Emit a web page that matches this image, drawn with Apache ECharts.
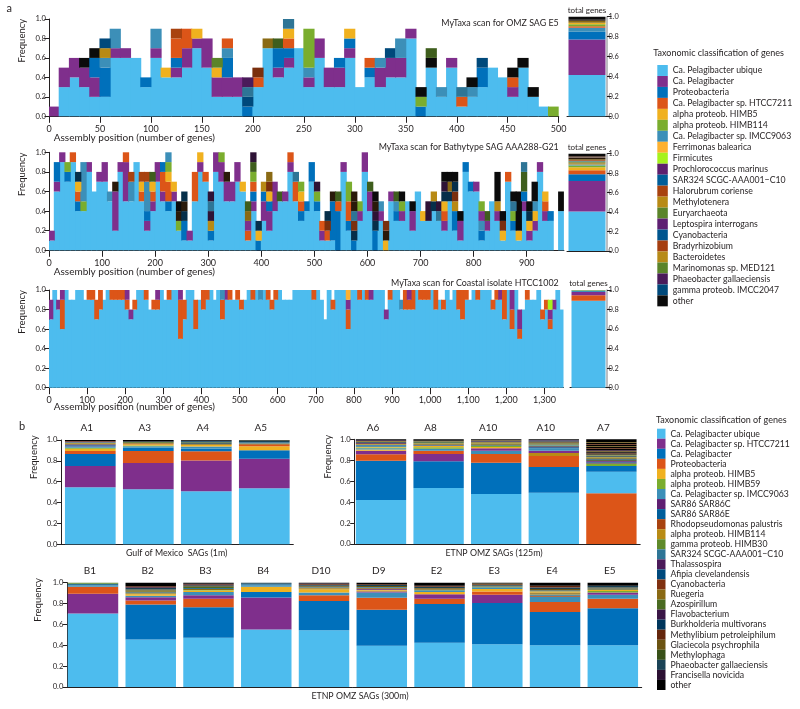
<!DOCTYPE html>
<html><head><meta charset="utf-8">
<style>html,body{margin:0;padding:0;background:#fff}#c{width:800px;height:709px}</style>
<script src="https://cdn.jsdelivr.net/npm/echarts@6/dist/echarts.min.js"></script>
</head><body><div id="c"></div>
<script>
const FONT = 'Lato';
const INK = '#231f20';

// ---- taxa of panel a (legend order) ----
const taxaA = ['Ca. Pelagibacter ubique','Ca. Pelagibacter','Proteobacteria','Ca. Pelagibacter sp. HTCC7211','alpha proteob. HIMB5','alpha proteob. HIMB114','Ca. Pelagibacter sp. IMCC9063','Ferrimonas balearica','Firmicutes','Prochlorococcus marinus','SAR324 SCGC-AAA001\u2212C10','Halorubrum coriense','Methylotenera','Euryarchaeota','Leptospira interrogans','Cyanobacteria','Bradyrhizobium','Bacteroidetes','Marinomonas sp. MED121','Phaeobacter gallaeciensis','gamma proteob. IMCC2047','other'];
const codesA = ['U','P','B','O','Y','G','C','F','R','D','S','H','M','E','L','V','W','T','I','Q','N','K'];
const coloursA = ['#4dbcee','#7f2f8c','#0070bb','#dc5518','#f0b11f','#7aad2e','#3c8fb8','#fdb131','#a6f21c','#5e1f6e','#005d99','#a8420f','#b88a15','#5b842a','#5e1f72','#00558e','#a53e10','#b78a18','#5a842a','#4a1b5a','#00497b','#0b0b0b'];
// darker minor taxa seen in the scans but not named in the legend
const extraCodesA = ['t','z','g','o','d','n','q'];
const extraColoursA = ['#2e7596','#7a2f0d','#3f5e1d','#8a6a14','#2a1a0a','#062f4a','#2e1336'];

// ---- taxa of panel b (legend order) ----
const taxaB = ['Ca. Pelagibacter ubique','Ca. Pelagibacter sp. HTCC7211','Ca. Pelagibacter','Proteobacteria','alpha proteob. HIMB5','alpha proteob. HIMB59','Ca. Pelagibacter sp. IMCC9063','SAR86 SAR86C','SAR86 SAR86E','Rhodopseudomonas palustris','alpha proteob. HIMB114','gamma proteob. HIMB30','SAR324 SCGC-AAA001\u2212C10','Thalassospira','Afipia clevelandensis','Cyanobacteria','Ruegeria','Azospirillum','Flavobacterium','Burkholderia multivorans','Methylibium petroleiphilum','Glaciecola psychrophila','Methylophaga','Phaeobacter gallaeciensis','Francisella novicida','other'];
const codesB = ['U','P','B','O','Y','G','C','p','s','r','m','g','t','h','f','c','u','z','l','b','e','a','y','d','n','k'];
const coloursB = ['#4dbcee','#7f2f8c','#0070bb','#dc5518','#f0b11f','#7aad2e','#3c8fb8','#5f1f72','#005e9a','#a8420f','#b88b15','#5f8a2a','#2e7596','#4b1b5a','#00497c','#7f3010','#8a6a14','#4a6b22','#3a1646','#00365c','#64260c','#6b5311','#385119','#1b4356','#2c1133','#000000'];

// ---- sliding-window scans: code + count of 0.1 frequency steps, bottom to top ----
const omzE5 = ['P1','U3P2','U4P2','U3P2K1','U2P2B2K1','U2B3C1M1N1','U6P1C2','U6P1','U6','U3B1','U6P1C2','U4Y1','U4P1B1O2H1','U5P2O2','U7P1Y1','U5P3','U2P2Y1E1','U2P2B2C1O1','U2P2','B1N1t1Q1','U3O1z1','U7o1','U4P1B2g1','U5P1B1O1Y1t1','U7','U3P1C1G4','U6P2','U3P2','U3P2B1','U6P1B1Y1','U3','U4B1O1','U3P2C1','U4P2N1','U4P2C2','U8P1','B1G1K1','U5K1g1','U2C1','U5P1','U1O1t1','U2C1K1','U3B2N1','U5','U4','U2P1O1K1','U5K1','U2K1','U1','G1'];
const bathyG21 = ['U1P1','U6P1B2','U9P1','U7B1G1','U9O1','U4B1O1Y1n1','U4G1C4','U8P1','U6','U7P1','U7P2','U5C1','U2P4d1','U8P1','U5P4O1','U5C2H1','U9','U5O1Y1H1','U2P1B1C3H1','U4P1O1Y1g1','U7P2','U5P1O2B1','U4B1O2Y1G1C1','U5P1Y1','U2G1d1K1','U1B2n1d1n1','U1P1','U5O3','U8P1Y1','U7O1','U1B1M1q1t1q1','U8P2','U7P2G1','U5P2d1','U5P2','U7P2','U6Y1','U1O1P1o1g1','U4P1B1O1G1g1q1','B1Y1n1','U3P2B1M1','U2P2B1Y1z1o1','U4P3','U5g1','U5P1','U8P1O1','U5O2t1','U3B1O1Y1G1','U4B1','U7B2','U4B1G1q1','U1P1O1','U1O1z1n1','U1B4d1','B4O1g1','U8P1','U2B1O2G2','B1n1z1t1d1d1','U3P1G1','U8P2','U4P2g1','B2n1q1d1K1','U3P1C1','Y1d1z1','U5P1','U3B1C1g1','U3P1G1K1','U5','U2P2K1','U6','U3Y1','U3q2','U4n1M1','U3t1q1','U2P1O1Y1n1q1K1','U5n1o1K1','U2B2M1z1n1K1','U1P2K1','U8B1','U6B1','U6P1','U1B1C1P1G1','U2P1g1','U5','U3P1M1K3','U1Y1z1K1','U7O1','U2B1G1t1K1','U1Y1K4','U4P1B1g2t1','U1P1Y1n1K1','U2P1Y1C1K2','U8P1','U3P1O1Y1','U3B1','','U4K2'];
const coastalHTCC1002 = ['U7P2','U10','U8P1','U6O3P1','U10','U9','U9','U10','U10','U9','U9O1','U9O1','U7O2','U8O2','U9','U10','U9O1','U9O1','U9O1','U9O1','U8O1P1','U7P1','U8O1','U10','U10','U9O1','U8','U8O1','U8O1P1','U10','U9','U9O1','U10','U10','U5O4P1','U7O2','U10','U10','U6O3','U9','U8O2','U9O1','U10','U9','U10','U7O2C1','U9P1','U9O1','U9','U9O1','U8O1','U9','U10','U9O1','U10','U9C1','U10','U9O1','U8O1','U9O1','U10','U9','U9','U9','U10','U10','U10','U10','U10','U9O1','U10','U9','U7','U10','U8O1','U10','U10','U10','U6O2P1F1','U10','U10','U9O1','U10','U9O1','U9P1','U10','U10','U10','U7P1','U9O1','U10','U10','U8C1','U8O2','U8O1P1','U8O2','U10','U9O1','U9O1','U9O1','U10','U8O2','U9','U8O1','U10','U9','U10','U8O2','U7O3','U9O1','U9','U10','U9O1','U10','U10','U10','U8O1','U9O1','U9P1','U7O3','U10','U6O2P2','U10','U5O1P2','U8','U9O1','U9','U9','U10','U7O1','U8O1','U6O1P1R1','U8P1','U10','U8'];

// ---- total genes bars: code + thousandths of frequency ----
const totalE5 = ['U415P355B80C40O15G20Y15o20d10K30'];
const totalG21 = ['U405P315B70O40Y30G20C10M10o10E10t8H8o8d12t6z8K30'];
const totalHTCC1002 = ['U890O55P35C15G5'];

// ---- panel b bars: code + thousandths of frequency ----
const gulfLabels = ['A1','A3','A4','A5'];
const gulfBars = ['U546P204B116O29Y20G10C15p8s8r6m8g4t4h4c5l4k9','U527P253O115B30C15G8Y12r6u8z6d6k14','U508P295O90B25C20Y16u10d12z8b8k8','U537P283B82Y38O12r8m6t12d14z4k4'];
const etnp125Labels = ['A6','A8','A10','A10','A7'];
const etnp125Bars = ['U420B375O63P33Y12C12G6Y9t10s8m6h8c6d8u8l6k10','U535B255P70O30C20G15Y10h6t8u8m6z8d8u7k14','U478B297O85C30P25Y12G8t8u10z8m10d8l7u6k8','U490B245O105m30P20C25s10h8G8t10u10z9e8d10l6k6','O485U205B55G25h8s8p6G6k8t6u8z6m8d8g6u6k10e8k10a8n8k12e8k10a8k12e6k14a6k26'];
const etnp300Labels = ['B1','B2','B3','B4','D10','D9','E2','E3','E4','E5'];
const etnp300Bars = ['U705P190O65C15t15g10','U455B335O40P30C15Y15m10t8u10z8a10d12l8e10k34','U472B293O80P35C30Y15G5u10t8z10a8d10e8l6k10','U552P305B53Y50C15t10s5d10','U545B280O55C25Y30m10u8t8a10d9e8l4k8','U395B345O115C50P10m10Y8p8u10t8a10d9e8k14','U425B370O50P45Y20C10G5t8u8a9d10e10k30','U410B395P80O30Y25C10G5t8u7d8e8a6k8','U400B320O95C50r10t12m8u10Y14B6a15d15e15k30','U400B355O90C40P20G15Y10u8t7a10d15k30'];

const ticks10 = (n) => Array.from({length: n}, (_, i) => String(i * 10));
const paletteA = {}; codesA.forEach((c, i) => paletteA[c] = coloursA[i]); extraCodesA.forEach((c, i) => paletteA[c] = extraColoursA[i]);
const paletteB = {}; codesB.forEach((c, i) => paletteB[c] = coloursB[i]);

function parse(str, scale) {
  const out = []; let m; const re = /([A-Za-z])(\d+)/g;
  while ((m = re.exec(str))) out.push({k: m[1], v: +m[2] / scale});
  return out;
}

const grid = [], xAxis = [], yAxis = [], series = [], title = [];
const baseAxisText = {fontFamily: FONT, color: INK};

function stacks(id, cols, xi, yi, palette, barOpt) {
  const maxN = Math.max(...cols.map(c => c.length));
  for (let l = 0; l < maxN; l++) {
    series.push(Object.assign({
      type: 'bar', name: id + ' layer ' + (l + 1), stack: id, xAxisIndex: xi, yAxisIndex: yi, silent: true,
      data: cols.map(c => c[l] ? {value: c[l].v, itemStyle: {color: palette[c[l].k]}} : null)
    }, barOpt));
  }
}
function freqAxis(gi, o) {
  const a = Object.assign({
    type: 'value', gridIndex: gi, min: 0, max: 1, interval: 0.2, splitLine: {show: false},
    axisLine: {show: true, lineStyle: {color: INK, width: 1}},
    axisTick: {show: true, length: 4.5, lineStyle: {color: INK}},
    axisLabel: Object.assign({fontSize: 7.6, margin: 3, formatter: v => v.toFixed(1)}, baseAxisText)
  }, o);
  yAxis.push(a); return yAxis.length - 1;
}
function scanPanel(id, cols, box, labels, labelMargin) {
  const gi = grid.length; grid.push(box);
  const maxV = cols.length * 10;
  xAxis.push({type: 'category', gridIndex: gi, position: 'bottom', data: ticks10(cols.length), boundaryGap: true,
    axisLine: {onZero: false, lineStyle: {color: INK, width: 1}}, axisTick: {interval: 0, length: 4, lineStyle: {color: INK}}, axisLabel: {show: false}, splitLine: {show: false}});
  const xi = xAxis.length - 1;
  xAxis.push({type: 'value', gridIndex: gi, position: 'bottom', min: 0, max: maxV, splitLine: {show: false}, axisLine: {show: false, onZero: false},
    axisTick: {show: true, length: 6.5, customValues: labels, lineStyle: {color: INK}},
    axisLabel: Object.assign({fontSize: 9, margin: labelMargin, customValues: labels}, baseAxisText)});
  const yi = freqAxis(gi, {name: 'Frequency', nameLocation: 'middle', nameGap: 22, nameMoveOverlap: false,
    nameTextStyle: {fontFamily: FONT, fontSize: 9.5, color: INK, padding: [0, 0, 0, 54]}});
  // columns overlap by a pixel so no seam shows between neighbours
  stacks(id, cols.map(s => parse(s, 10)), xi, yi, paletteA, {barWidth: box.width / cols.length + 1});
}
function totalPanel(id, col, box) {
  const gi = grid.length; grid.push(box);
  xAxis.push({type: 'category', gridIndex: gi, data: ['total'], axisLine: {lineStyle: {color: INK, width: 1}}, axisTick: {show: false}, axisLabel: {show: false}});
  const xi = xAxis.length - 1;
  const yi = freqAxis(gi, {position: 'right', axisLine: {show: true, lineStyle: {color: '#a7a9ac', width: 1.5}},
    axisLabel: Object.assign({fontSize: 7.4, margin: 1.5, formatter: v => v.toFixed(1)}, baseAxisText)});
  stacks(id, [parse(col[0], 1000)], xi, yi, paletteA, {barWidth: box.width - 3});
}
function barPanel(id, labels, bars, box, yOffset, nameShift, nameGap, labelPad) {
  const gi = grid.length; grid.push(box);
  xAxis.push({type: 'category', gridIndex: gi, position: 'bottom', data: labels, axisLine: {lineStyle: {color: INK, width: 1}}, axisTick: {show: false}, axisLabel: {show: false}});
  const xi = xAxis.length - 1;
  xAxis.push({type: 'category', gridIndex: gi, position: 'top', data: labels, axisLine: {show: false}, axisTick: {show: false},
    axisLabel: Object.assign({fontSize: 10, margin: 7, padding: [0, labelPad, 0, 0]}, baseAxisText)});
  const yi = freqAxis(gi, {offset: yOffset, name: 'Frequency', nameLocation: 'middle', nameGap: nameGap, nameMoveOverlap: false,
    nameTextStyle: {fontFamily: FONT, fontSize: 9.5, color: INK, padding: [0, 0, 0, nameShift]},
    axisLabel: Object.assign({fontSize: 7.6, margin: 4, formatter: v => v.toFixed(1)}, baseAxisText)});
  stacks(id, bars.map(s => parse(s, 1000)), xi, yi, paletteB, {barCategoryGap: '12.6%'});
}
function note(text, x, y, size, align) {
  const t = {text, top: y - size * 0.62, padding: 0, textStyle: {fontFamily: FONT, fontSize: size, fontWeight: 'normal', color: INK}};
  if (align === 'right') t.right = 800 - x;
  else if (align === 'center') { t.left = x; t.textAlign = 'center'; }
  else t.left = x;
  title.push(t);
}

scanPanel('omz', omzE5, {left: 49, top: 19, width: 509.7, height: 97.3}, [0,50,100,150,200,250,300,350,400,450,500], 8);
totalPanel('omzTotal', totalE5, {left: 567, top: 16.7, width: 40, height: 99.6});
scanPanel('bathy', bathyG21, {left: 49, top: 152.3, width: 514.9, height: 98}, [0,100,200,300,400,500,600,700,800,900], 8);
totalPanel('bathyTotal', totalG21, {left: 567, top: 153.7, width: 40, height: 97.3});
scanPanel('coastal', coastalHTCC1002, {left: 49, top: 290, width: 514.5, height: 97.7}, [0,100,200,300,400,500,600,700,800,900,1000,1100,1200,1300], 8);
totalPanel('coastalTotal', totalHTCC1002, {left: 570, top: 290, width: 37, height: 97.7});

barPanel('gulf', gulfLabels, gulfBars, {left: 61.3, top: 440, width: 232, height: 104.3}, 0, 70, 22, 7);
barPanel('etnp125', etnp125Labels, etnp125Bars, {left: 352.2, top: 439.3, width: 288, height: 104.7}, -2.5, 70, 22, 16);
barPanel('etnp300', etnp300Labels, etnp300Bars, {left: 64.1, top: 582.7, width: 577.6, height: 104.3}, -3.2, 70, 24, 6);

note('a', 6.5, 10, 11);
note('b', 19, 428, 11);
note('MyTaxa scan for OMZ SAG E5', 558.7, 24.3, 8.9, 'right');
note('MyTaxa scan for Bathytype SAG AAA288-G21', 558.7, 148.3, 8.9, 'right');
note('MyTaxa scan for Coastal isolate HTCC1002', 558.7, 284, 8.9, 'right');
note('Assembly position (number of genes)', 53.7, 139, 10);
note('Assembly position (number of genes)', 53.7, 273, 10);
note('Assembly position (number of genes)', 53.7, 408, 10);
note('total genes', 587, 11.7, 8, 'center');
note('total genes', 587, 148.3, 8, 'center');
note('total genes', 588.5, 284, 8, 'center');
note('Gulf of Mexico  SAGs (1m)', 176.7, 553.7, 8.8, 'center');
note('ETNP OMZ SAGs (125m)', 494, 553.7, 8.8, 'center');
note('ETNP OMZ SAGs (300m)', 360, 697.3, 8.8, 'center');
note('Taxonomic classification of genes', 653.3, 54, 9);
note('Taxonomic classification of genes', 656, 421, 9);

// names for the legends: empty series sharing the first stack so no band width is taken
[...new Set([...taxaA, ...taxaB])].forEach(name => {
  series.push({type: 'bar', name, stack: 'omz', xAxisIndex: 0, yAxisIndex: 0, data: []});
});
const legendOf = (taxa, colours, left, top, w, h, size) => ({
  orient: 'vertical', left, top, padding: 0, itemGap: 0, itemWidth: w, itemHeight: h, icon: 'rect', selectedMode: false,
  textStyle: {fontFamily: FONT, fontSize: size, color: INK, lineHeight: h},
  data: taxa.map((name, i) => ({name, itemStyle: {color: colours[i]}}))
});

const chart = echarts.init(document.getElementById('c'), null, {renderer: 'canvas'});
chart.setOption({
  animation: false, backgroundColor: '#fff', title, grid, xAxis, yAxis, series,
  legend: [legendOf(taxaA, coloursA, 657.3, 65, 10.5, 10.97, 8.7), legendOf(taxaB, coloursB, 657, 428.7, 8.5, 10.05, 8.7)]
});
</script></body></html>
